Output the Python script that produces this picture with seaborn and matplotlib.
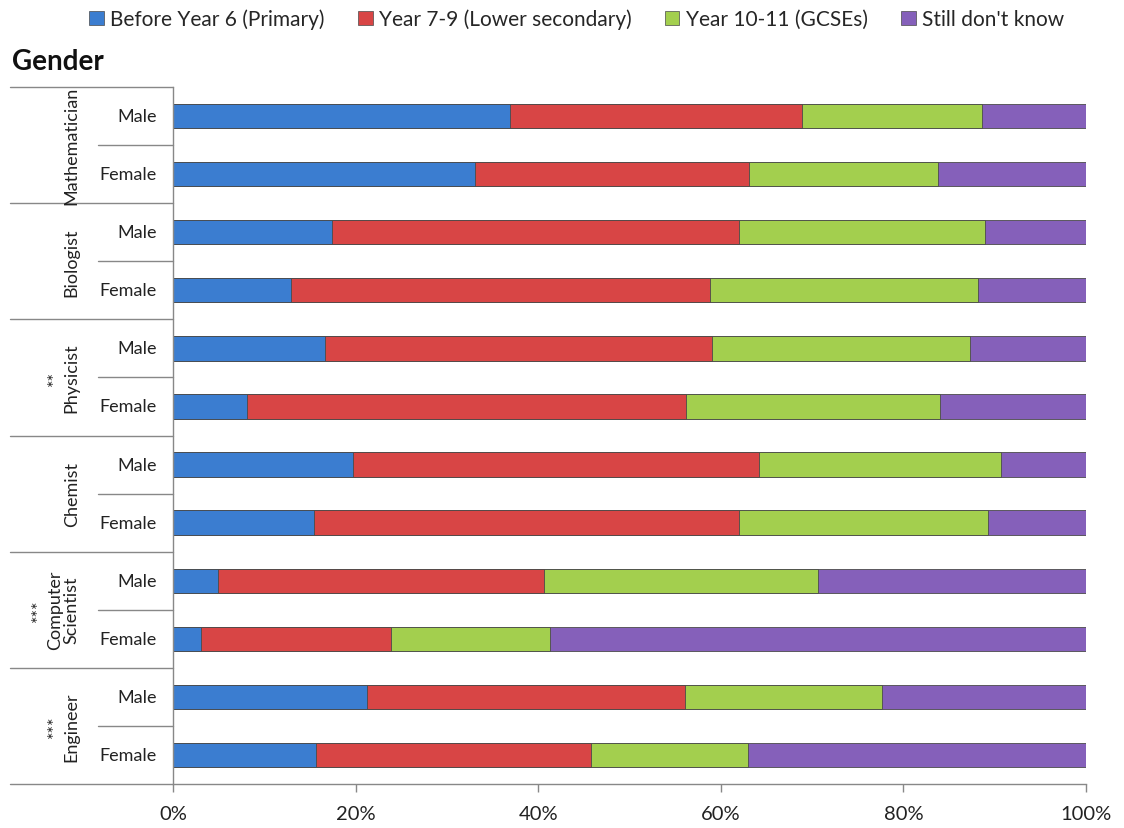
import numpy as np
import pandas as pd
import matplotlib
matplotlib.use("Agg")
import matplotlib.pyplot as plt
import matplotlib.transforms as mtransforms
from matplotlib.patches import Patch
from matplotlib.ticker import PercentFormatter
import seaborn as sns

# data (percent of respondents)
professions = ["Mathematician", "Biologist", "Physicist", "Chemist", "Computer\nScientist", "Engineer"]
prof_marks = ["", "", "**", "", "***", "***"]
genders = ["Male", "Female"]

before_y6 = [36.9, 33.1, 17.4, 12.9, 16.6, 8.1, 19.7, 15.4, 4.9, 3.1, 21.2, 15.7]
year7_9 = [32.0, 30.0, 44.6, 45.9, 42.4, 48.1, 44.5, 46.6, 35.7, 20.8, 34.9, 30.1]
year10_11 = [19.7, 20.7, 26.9, 29.4, 28.3, 27.8, 26.5, 27.3, 30.0, 17.4, 21.6, 17.2]
dont_know = [11.4, 16.2, 11.1, 11.8, 12.7, 16.0, 9.3, 10.7, 29.4, 58.7, 22.3, 37.0]

series = ["Before Year 6 (Primary)", "Year 7-9 (Lower secondary)", "Year 10-11 (GCSEs)", "Still don't know"]
colors = ["#3B7DD0", "#D84545", "#A3CF4E", "#8560BA"]

rows = [f"{p}|{g}" for p in professions for g in genders]
df = pd.DataFrame({"row": rows})
vals = np.array([before_y6, year7_9, year10_11, dont_know])
cum = vals.cumsum(axis=0)
for i, s in enumerate(series):
    df[s] = cum[i]

sns.set_style("white")
plt.rcParams["font.family"] = ["Lato", "DejaVu Sans"]

fig = plt.figure(figsize=(11.24, 8.29), dpi=100)
ax = fig.add_axes([173 / 1124, 1 - 785 / 829, 913 / 1124, 697 / 829])

# stacked bars: draw the longest cumulative first
for s, c in reversed(list(zip(series, colors))):
    sns.barplot(data=df, y="row", x=s, order=rows, color=c, orient="h", saturation=1,
                width=0.42, edgecolor="#4a4a4a", linewidth=0.6, ax=ax)

ax.set_xlim(0, 100)
ax.set_ylim(11.5, -0.5)
ax.set_xlabel("")
ax.set_ylabel("")
ax.set_yticks([])
ax.set_xticks([0, 20, 40, 60, 80, 100])
ax.xaxis.set_major_formatter(PercentFormatter(decimals=0))
ax.tick_params(axis="x", direction="out", length=6, width=1, color="#888888",
               labelsize=14.5, pad=9, labelcolor="#222222", bottom=True)
for side in ["top", "right"]:
    ax.spines[side].set_visible(False)
for side in ["left", "bottom"]:
    ax.spines[side].set_color("#888888")
    ax.spines[side].set_linewidth(1)

trans = mtransforms.blended_transform_factory(ax.transAxes, ax.transData)

# group separators and labels on the left
for k in range(len(professions) + 1):
    y = k * 2 - 0.5
    ax.plot([-0.1785, 0], [y, y], color="#888888", lw=1, transform=trans, clip_on=False)
for k in range(len(professions)):
    y = k * 2 + 0.5
    ax.plot([-0.0821, 0], [y, y], color="#888888", lw=1, transform=trans, clip_on=False)
    label = professions[k] if not prof_marks[k] else prof_marks[k] + "\n" + professions[k]
    ax.text(-0.102, y, label, rotation=90, ha="right", va="center",
            multialignment="center", fontsize=13, color="#222222",
            transform=trans, linespacing=1.05)

for i, r in enumerate(rows):
    ax.text(-0.0175, i, r.split("|")[1], ha="right", va="center",
            fontsize=13, color="#222222", transform=trans)

fig.text(12 / 1124, 1 - 62 / 829, "Gender", fontsize=20, fontweight="bold",
         va="center", ha="left", color="#111111")

handles = [Patch(facecolor=c, edgecolor="#4a4a4a", linewidth=0.5) for c in colors]
fig.legend(handles, series, loc="center", bbox_to_anchor=(0.513, 1 - 20 / 829),
           ncol=4, frameon=False, fontsize=15, handlelength=0.7, handleheight=0.7,
           handletextpad=0.3, columnspacing=1.6)

fig.savefig("out.png", dpi=100)
